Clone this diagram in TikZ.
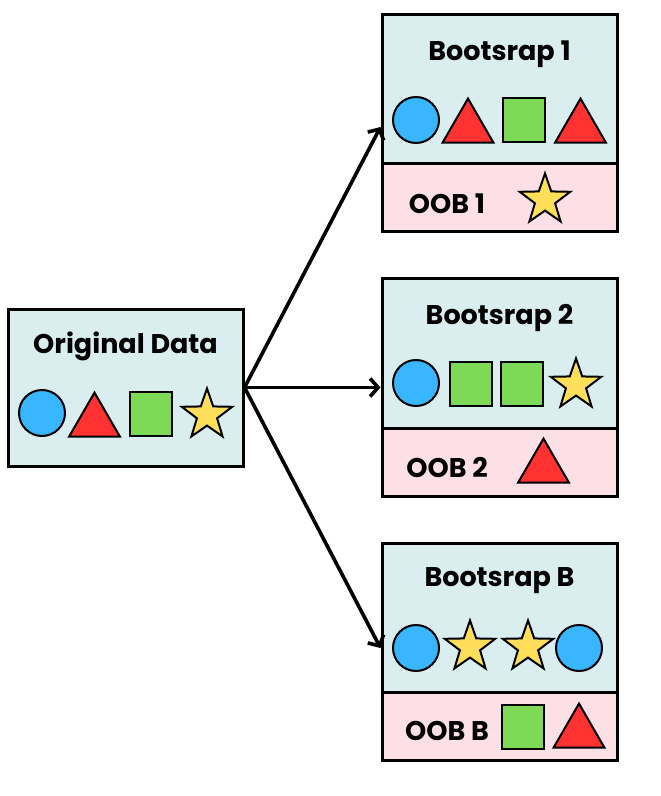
\documentclass[tikz,border=0pt]{standalone}
\usepackage{fontspec}
\setmainfont{Poppins}
\usepackage{tikz}
\usetikzlibrary{positioning, shapes.geometric, arrows.meta}
\definecolor{boxCyan}{HTML}{DAEEF0}
\definecolor{oobPink}{HTML}{FDDFE6}
\definecolor{dotBlue}{HTML}{38B6FF}
\definecolor{dotRed}{HTML}{FF3131}
\definecolor{dotGreen}{HTML}{7ED957}
\definecolor{dotYellow}{HTML}{FFDE59}
\tikzset{
  sampleBox/.style={draw, line width=1.5pt, fill=boxCyan,
    minimum width=117.5pt, minimum height=74.5pt},
  oobBox/.style={draw, line width=1.5pt, fill=oobPink,
    minimum width=117.5pt, minimum height=34pt},
  boxTitle/.style={font=\bfseries\fontsize{13.5}{15}\selectfont},
  ballSym/.style={circle, draw, line width=1pt, fill=dotBlue,
    minimum size=23pt, inner sep=0pt},
  triSym/.style={regular polygon, regular polygon sides=3, draw, line width=1pt,
    fill=dotRed, minimum size=29.4pt, inner sep=0pt},
  cubeSym/.style={rectangle, draw, line width=1pt, fill=dotGreen,
    minimum width=21pt, minimum height=22pt, inner sep=0pt},
  starSym/.style={star, star points=5, star point ratio=2.5, draw, line width=1pt,
    fill=dotYellow, minimum size=26.5pt, inner sep=0pt},
  sampleArrow/.style={line width=1.8pt, -{Straight Barb[length=4pt, width=9pt]}}
}

\begin{document}
\begin{tikzpicture}[x=0.5pt, y=-0.5pt]
\useasboundingbox (0,0) rectangle (660,796);

% original data
\node[sampleBox, minimum height=78.5pt] (orig) at (125.5,387.5) {};
\node[boxTitle] at ([yshift=-19.5pt]orig.north) {Original Data};
\node[ballSym] (o1) at (42,413) {};
\node[triSym] (o2) at (94.5,422) {};
\node[cubeSym] (o3) at (151,414) {};
\node[starSym] (o4) at (207,415) {};

% bootstrap samples
\node[sampleBox] (boot1) at (499.5,89.5) {};
\node[oobBox, below=-1.5pt of boot1] (oob1) {};
\node[sampleBox, below=22pt of oob1] (boot2) {};
\node[oobBox, below=-1.5pt of boot2] (oob2) {};
\node[sampleBox, below=22pt of oob2] (bootB) {};
\node[oobBox, below=-1.5pt of bootB] (oobB) {};

\node[boxTitle] at ([yshift=-20.5pt]boot1.north) {Bootsrap 1};
\node[boxTitle] at ([yshift=-20.5pt]boot2.north) {Bootsrap 2};
\node[boxTitle] at ([yshift=-19.5pt]bootB.north) {Bootsrap B};

\node[ballSym] (a1) at (416,120) {};
\node[triSym] (a2) at (468,128) {};
\node[cubeSym] (a3) at (523.5,120.5) {};
\node[triSym] (a4) at (580.5,128) {};
\node[boxTitle] at (447,204) {OOB 1};
\node[starSym] (a5) at (545,200) {};

\node[ballSym] (b1) at (416,383) {};
\node[cubeSym] (b2) at (470.5,384) {};
\node[cubeSym] (b3) at (521.5,384) {};
\node[starSym] (b4) at (576,385) {};
\node[boxTitle] at (447,468) {OOB 2};
\node[triSym] (b5) at (543.5,468) {};

\node[ballSym] (c1) at (416,648) {};
\node[starSym] (c2) at (470,647) {};
\node[starSym] (c3) at (528,647) {};
\node[ballSym] (c4) at (579,648) {};
\node[boxTitle] at (447,731) {OOB B};
\node[cubeSym] (c5) at (522.5,726.5) {};
\node[triSym] (c6) at (579,733) {};

% arrows
\draw[sampleArrow] (orig.east) -- ([yshift=-3.5pt]boot1.west |- a1);
\draw[sampleArrow] (orig.east) -- (boot2.west |- orig.east);
\draw[sampleArrow] (orig.east) -- (bootB.west |- c1);
\end{tikzpicture}
\end{document}
